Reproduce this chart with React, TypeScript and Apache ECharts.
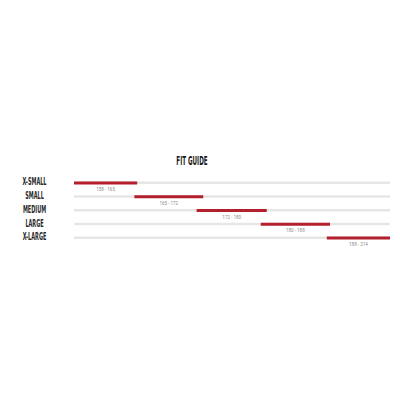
import { useEffect, useRef } from 'react'
import * as echarts from 'echarts'

// sizes, top to bottom
const sizes = ['X-SMALL', 'SMALL', 'MEDIUM', 'LARGE', 'X-LARGE']
// height range shown under each red segment
const ranges = ['158 - 165', '165 - 172', '172 - 180', '180 - 188', '188 - 214']
// segment position along the track (0..100)
const segStart = [0, 19.1, 38.8, 59.1, 80]
const segEnd = [20, 40.9, 61, 81, 100]
const trackEnd = [100, 100, 100, 100, 100]

const condensed = "'DejaVu Sans Condensed', 'DejaVu Sans', sans-serif"

export default function App() {
  const chartRef = useRef<HTMLDivElement>(null)

  useEffect(() => {
    if (!chartRef.current) return
    const chart = echarts.init(chartRef.current, null, { renderer: 'svg' })

    const option: echarts.EChartsOption = {
      animation: false,
      backgroundColor: '#ffffff',
      grid: {
        left: 74,
        right: 10,
        top: 176,
        bottom: 155,
      },
      xAxis: {
        type: 'value',
        min: 0,
        max: 100,
        show: false,
      },
      yAxis: {
        type: 'category',
        data: sizes,
        inverse: true,
        axisLine: { show: false },
        axisTick: { show: false },
        splitLine: { show: false },
        axisLabel: { show: false },
      },
      series: [
        {
          type: 'bar',
          data: trackEnd,
          barWidth: 2.5,
          barGap: '-100%',
          itemStyle: { color: '#e6e6e6' },
          silent: true,
        },
        {
          type: 'bar',
          stack: 'seg',
          data: segStart,
          barWidth: 3,
          itemStyle: { color: 'transparent' },
          silent: true,
        },
        {
          type: 'bar',
          stack: 'seg',
          data: segEnd.map((e, i) => e - segStart[i]),
          barWidth: 3,
          itemStyle: { color: '#b3202c' },
          label: {
            show: true,
            position: 'bottom',
            distance: 2.5,
            fontSize: 4.5,
            fontFamily: 'Roboto, sans-serif',
            color: '#8a8a8a',
            formatter: (p: any) => ranges[p.dataIndex],
          },
        },
      ],
    }

    chart.setOption(option)

    // condensed headline-style labels: squeeze the text horizontally
    const sizeLabels = sizes.map((s) => {
      const y = chart.convertToPixel({ yAxisIndex: 0 }, s) as number
      return {
        type: 'text' as const,
        x: 34.5,
        y: y - 1.5,
        scaleX: 0.5,
        style: {
          text: s,
          fontFamily: condensed,
          fontWeight: 'bold' as const,
          fontSize: 11,
          fill: '#2a2a2a',
          textAlign: 'center' as const,
          textVerticalAlign: 'middle' as const,
        },
      }
    })

    chart.setOption({
      graphic: [
        {
          type: 'text',
          x: 192,
          y: 161,
          scaleX: 0.54,
          style: {
            text: 'FIT GUIDE',
            fontFamily: condensed,
            fontWeight: 'bold',
            fontSize: 11.5,
            fill: '#1a1a1a',
            textAlign: 'center',
            textVerticalAlign: 'middle',
          },
        },
        ...sizeLabels,
      ],
    })

    return () => {
      chart.dispose()
    }
  }, [])

  return (
    <div
      ref={chartRef}
      style={{ position: 'fixed', left: 0, top: 0, width: 400, height: 400 }}
    />
  )
}
